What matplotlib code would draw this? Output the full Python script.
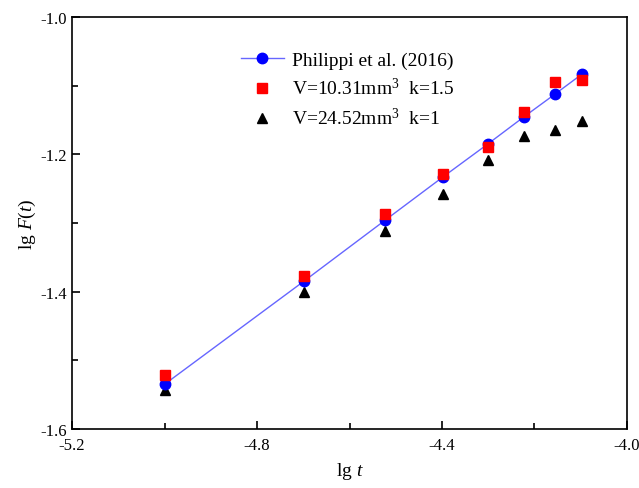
import numpy as np
import matplotlib.pyplot as plt
from matplotlib.ticker import MultipleLocator

plt.rcParams["font.family"] = "Liberation Serif"
plt.rcParams["mathtext.fontset"] = "custom"
plt.rcParams["mathtext.rm"] = "Liberation Serif"
plt.rcParams["mathtext.it"] = "Liberation Serif:italic"

# lg t values (t = 1e-5 ... 8e-5)
lg_t = [-5.0, -4.699, -4.523, -4.398, -4.301, -4.222, -4.155, -4.097]
philippi = [-1.535, -1.385, -1.296, -1.233, -1.185, -1.145, -1.112, -1.083]
v1031 = [-1.521, -1.377, -1.287, -1.228, -1.189, -1.138, -1.095, -1.092]
v2452 = [-1.543, -1.401, -1.311, -1.258, -1.208, -1.173, -1.165, -1.152]

fig = plt.figure(figsize=(6.39, 4.89), dpi=100)
ax = fig.add_axes([0.1127, 0.1207, 0.8685, 0.8425])

ax.plot(lg_t, philippi, color="#6666ff", linewidth=1.0, marker="o",
        markersize=7.5, markerfacecolor="blue", markeredgecolor="blue",
        label="Philippi et al. (2016)", zorder=3)
ax.plot(lg_t, v1031, linestyle="none", marker="s", markersize=6.5,
        color="red", label="V=10.31mm$^3$  k=1.5", zorder=4)
ax.plot(lg_t, v2452, linestyle="none", marker="^", markersize=7.5,
        color="black", label="V=24.52mm$^3$  k=1", zorder=2)

ax.set_xlim(-5.2, -4.0)
ax.set_ylim(-1.6, -1.0)
ax.xaxis.set_major_locator(MultipleLocator(0.4))
ax.xaxis.set_minor_locator(MultipleLocator(0.2))
ax.yaxis.set_major_locator(MultipleLocator(0.2))
ax.yaxis.set_minor_locator(MultipleLocator(0.1))
ax.xaxis.set_major_formatter(plt.FormatStrFormatter("%.1f"))
ax.yaxis.set_major_formatter(plt.FormatStrFormatter("%.1f"))
ax.tick_params(which="both", direction="in", labelsize=12, width=1.2)
ax.tick_params(axis="x", which="major", pad=6)
ax.tick_params(which="major", length=6)
ax.tick_params(which="minor", length=4)
for s in ax.spines.values():
    s.set_linewidth(1.2)

ax.set_xlabel("lg $\\it{t}$", fontsize=14, labelpad=5)
ax.set_ylabel("lg $\\it{F(t)}$", fontsize=14, labelpad=2)

ax.legend(loc="upper left", bbox_to_anchor=(0.273, 0.96), frameon=False,
          fontsize=14, handlelength=2.2, labelspacing=0.45, handletextpad=0.4)

fig.savefig("out.png", dpi=100)
